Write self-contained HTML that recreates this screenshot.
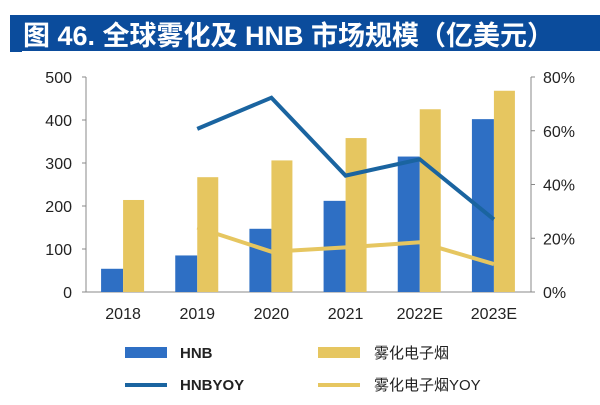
<!DOCTYPE html>
<html><head><meta charset="utf-8"><style>
body{margin:0;background:#fff;width:600px;height:400px;overflow:hidden;font-family:"Liberation Sans","Noto Sans CJK SC",sans-serif}
</style></head><body>
<svg width="600" height="400" xmlns="http://www.w3.org/2000/svg" font-family="Liberation Sans, Noto Sans CJK SC, sans-serif">
<rect x="10" y="15" width="590" height="37" fill="#0b4c9c"/>
<line x1="22" y1="51.5" x2="600" y2="51.5" stroke="#fff" stroke-width="1"/>
<text x="23" y="45" font-size="27" font-weight="bold" fill="#fff">图 46. 全球雾化及 HNB 市场规模（亿美元）</text>
<g id="axes"></g>
<g id="marks"></g>
<g id="legend" font-size="15" fill="#222">
<rect x="125" y="347" width="42" height="11" fill="#2e6fc4"/>
<text x="180" y="358" font-weight="bold">HNB</text>
<rect x="318" y="347" width="42" height="11" fill="#e6c660"/>
<text x="374" y="358">雾化电子烟</text>
<line x1="125" y1="385" x2="167" y2="385" stroke="#1a64a0" stroke-width="4"/>
<text x="180" y="390" font-weight="bold">HNBYOY</text>
<line x1="318" y1="385" x2="360" y2="385" stroke="#e6c660" stroke-width="4"/>
<text x="374" y="390">雾化电子烟YOY</text>
</g>
</svg>
<script>
const categories=["2018","2019","2020","2021","2022E","2023E"];
const hnb=[54,85,147,212,315,402];
const vape=[214,267,306,358,425,468];
const hnbYoy=[null,0.607,0.723,0.433,0.494,0.27];
const vapeYoy=[null,0.24,0.15,0.166,0.185,0.104];
const leftTicks=[0,100,200,300,400,500];
const rightTicks=[0,0.2,0.4,0.6,0.8];
const NS="http://www.w3.org/2000/svg";
const X0=86,X1=531,Y0=292,Y1=77;
const band=(X1-X0)/categories.length;
const xc=i=>X0+band*(i+0.5);
const yL=v=>Y0-(v/500)*(Y0-Y1);
const yR=v=>Y0-(v/0.8)*(Y0-Y1);
function mk(tag,attrs,parent){const e=document.createElementNS(NS,tag);for(const k in attrs)e.setAttribute(k,attrs[k]);parent.appendChild(e);return e;}
const axes=document.getElementById('axes'),marks=document.getElementById('marks');
let e=mk('line',{x1:X0,y1:Y1,x2:X0,y2:Y0,stroke:'#888'},axes);


e=mk('line',{x1:X1,y1:Y1,x2:X1,y2:Y0,stroke:'#888'},axes);


e=mk('line',{x1:X0,y1:Y0,x2:X1,y2:Y0,stroke:'#888'},axes);


leftTicks.forEach(t=>{mk('line',{x1:X0-4,x2:X0,y1:yL(t),y2:yL(t),stroke:'#888'},axes);
const tx=mk('text',{x:X0-14,y:yL(t)+6,'text-anchor':'end','font-size':16,fill:'#222'},axes);tx.textContent=t;

});
rightTicks.forEach(t=>{mk('line',{x1:X1,x2:X1+4,y1:yR(t),y2:yR(t),stroke:'#888'},axes);
const tx=mk('text',{x:X1+12,y:yR(t)+6,'font-size':16,fill:'#222'},axes);tx.textContent=Math.round(t*100)+'%';

});
categories.forEach((c,i)=>{const tx=mk('text',{x:xc(i),y:Y0+27,'text-anchor':'middle','font-size':16,fill:'#222'},axes);tx.textContent=c;


const b1=mk('rect',{x:xc(i)-22,y:yL(hnb[i]),width:22,height:Y0-yL(hnb[i]),fill:'#2e6fc4'},marks);


const b2=mk('rect',{x:xc(i),y:yL(vape[i]),width:21,height:Y0-yL(vape[i]),fill:'#e6c660'},marks);

});
function line(vals,color,name){const pts=[];vals.forEach((v,i)=>{if(v!=null)pts.push(xc(i)+','+yR(v));});
const p=mk('polyline',{points:pts.join(' '),fill:'none',stroke:color,'stroke-width':4,'stroke-linejoin':'miter'},marks);

}
line(vapeYoy,'#e6c660','line-vape-yoy');
line(hnbYoy,'#1a64a0','line-hnb-yoy');
</script>
</body></html>
